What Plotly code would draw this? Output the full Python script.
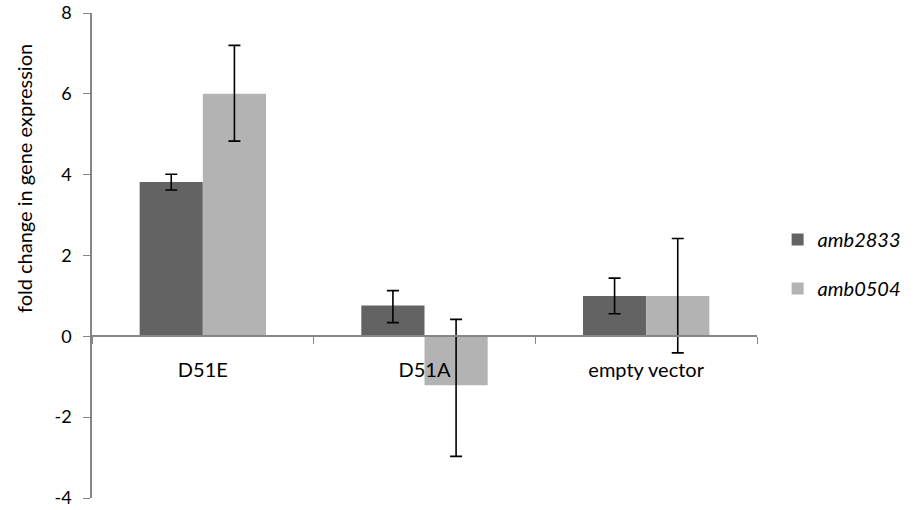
import plotly.graph_objects as go

categories = ["D51E", "D51A", "empty vector"]
amb2833 = [3.82, 0.76, 1.0]
amb2833_err_plus = [0.19, 0.37, 0.44]
amb2833_err_minus = [0.2, 0.42, 0.44]
amb0504 = [6.0, -1.21, 1.0]
amb0504_err_plus = [1.2, 1.63, 1.42]
amb0504_err_minus = [1.17, 1.76, 1.41]
y_ticks = [-4, -2, 0, 2, 4, 6, 8]
y_tick_text = ["-4", "-2", "0", "2", "4", "6", "8"]
y_title = "fold change in gene expression"

font_family = "Lato, Open Sans, sans-serif"

TOP, BOTTOM = 13, 12
plot_h = 510 - TOP - BOTTOM

fig = go.Figure()
fig.add_trace(go.Bar(
    x=categories, y=amb2833, name="amb2833", legendgroup="a",
    marker=dict(color="#636363", line=dict(width=0)),
    error_y=dict(type="data", symmetric=False, array=amb2833_err_plus,
                 arrayminus=amb2833_err_minus, color="black", thickness=1.6, width=6),
))
fig.add_trace(go.Bar(
    x=categories, y=amb0504, name="amb0504", legendgroup="b",
    marker=dict(color="#b3b3b3", line=dict(width=0)),
    error_y=dict(type="data", symmetric=False, array=amb0504_err_plus,
                 arrayminus=amb0504_err_minus, color="black", thickness=1.6, width=6),
))

fig.update_layout(
    width=915, height=510,
    margin=dict(l=92, r=158, t=TOP, b=BOTTOM, autoexpand=False),
    plot_bgcolor="white", paper_bgcolor="white",
    barmode="group", bargap=0.43, bargroupgap=0,
    font=dict(family=font_family, size=16, color="black"),
    legend=dict(
        x=1.031, y=(510 - BOTTOM - 220) / plot_h, xanchor="left", yanchor="top",
        font=dict(size=20, style="italic"),
        tracegroupgap=20, traceorder="grouped",
        itemwidth=30,
    ),
    xaxis=dict(
        anchor="free", position=4/12, automargin=False,
        showline=True, linecolor="#868686", linewidth=1.5,
        ticks="outside", tickson="boundaries", ticklen=7, tickcolor="#868686",
        tickfont=dict(size=20), ticklabelstandoff=16,
        showgrid=False, zeroline=False,
    ),
    yaxis=dict(
        range=[-4, 8], tickvals=y_ticks, ticktext=y_tick_text, automargin=False,
        showline=True, linecolor="#868686", linewidth=1.5,
        ticks="outside", ticklen=7, tickcolor="#868686",
        tickfont=dict(size=18), ticklabeloverflow="allow", ticklabelstandoff=8,
        showgrid=False, zeroline=False,
    ),
    annotations=[dict(
        text=y_title, textangle=-90, xref="paper", yref="paper",
        x=(24 - 92) / 665, y=(510 - BOTTOM - 179) / plot_h, xanchor="center", yanchor="middle",
        showarrow=False, font=dict(size=20),
    )],
)

fig.write_html("out.html")
